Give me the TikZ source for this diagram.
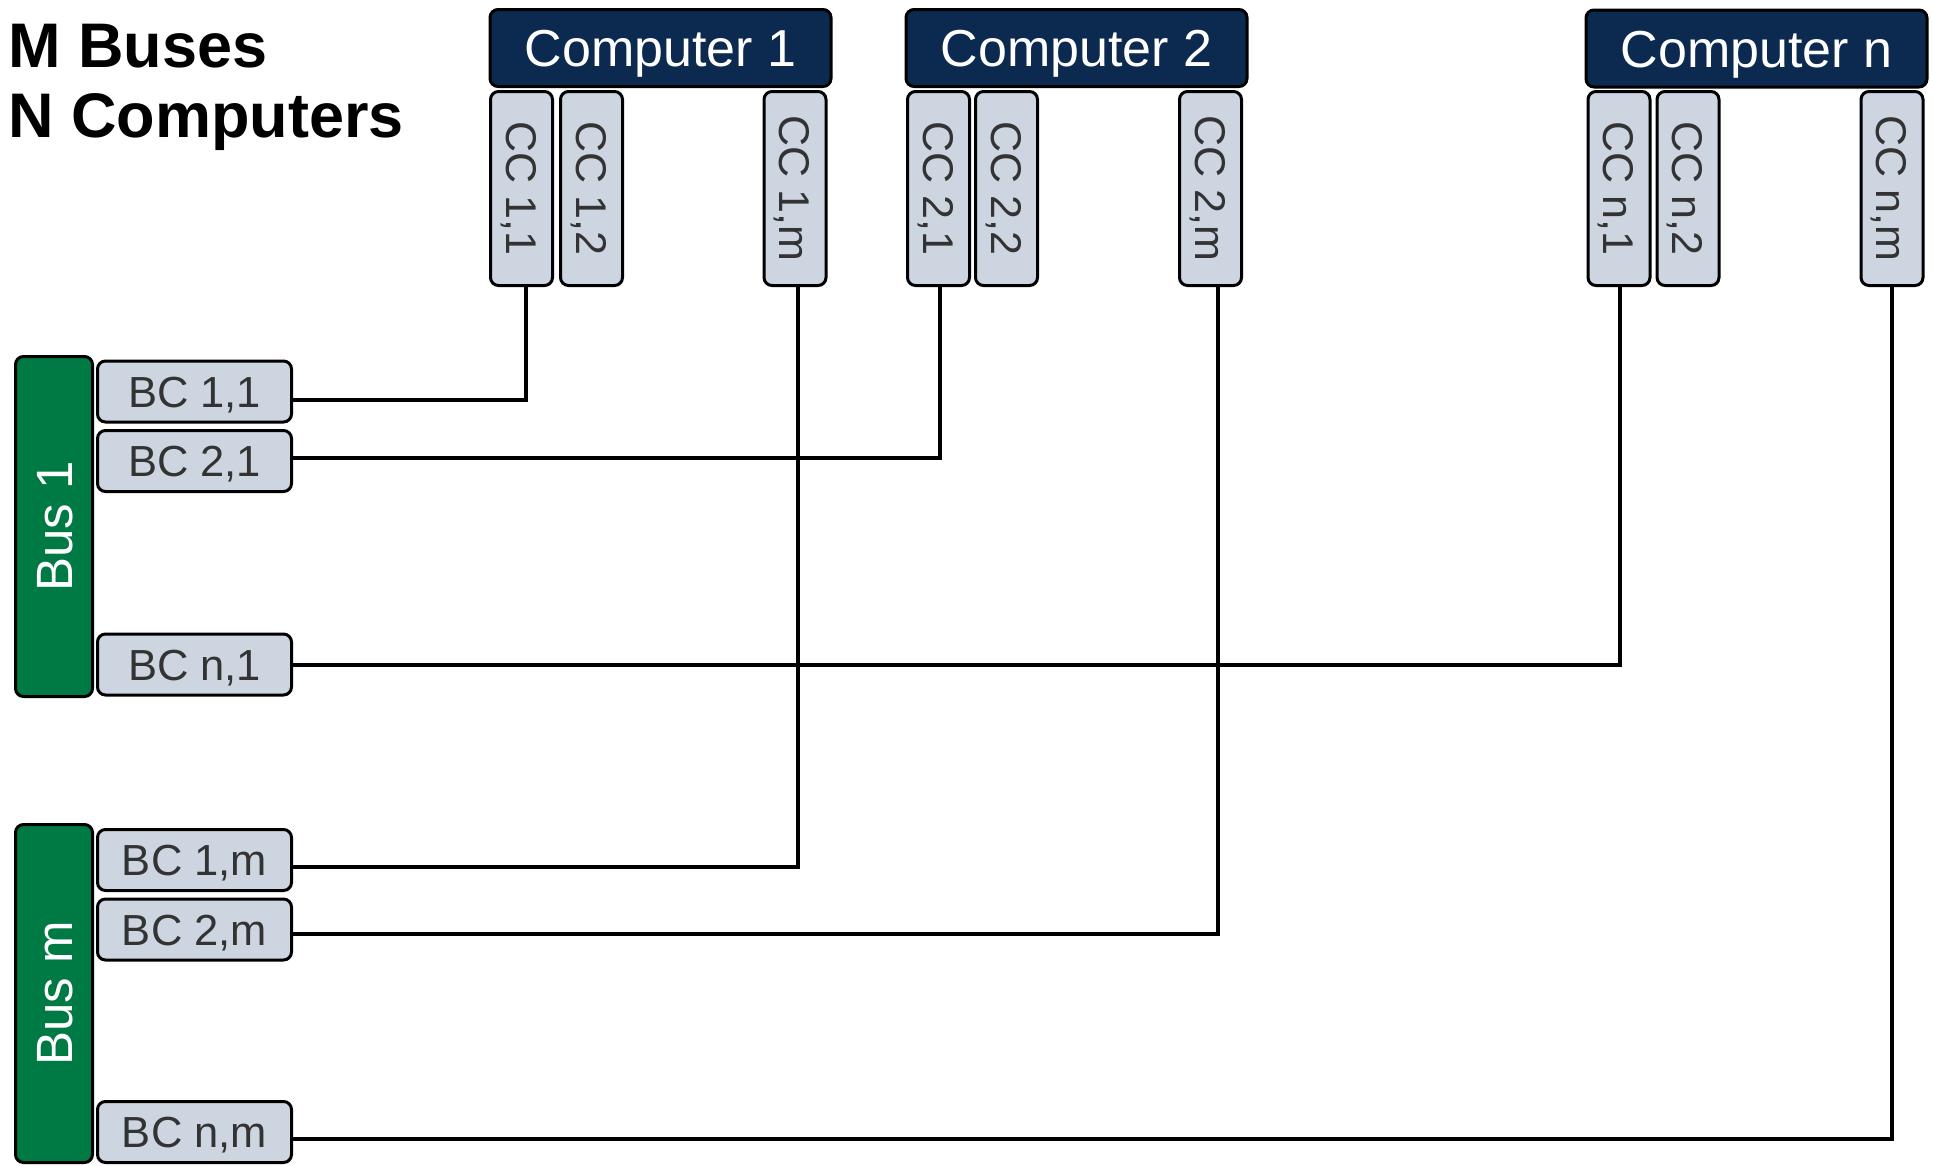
\documentclass[tikz,border=0pt]{standalone}
\usepackage{fontspec}
\setmainfont{Liberation Sans}
\usetikzlibrary{calc}
\definecolor{compblue}{HTML}{0C2A50}
\definecolor{busgreen}{HTML}{007A45}
\definecolor{ctrlfill}{HTML}{CDD5E1}
\definecolor{ctrltext}{HTML}{333333}
\tikzset{
  box/.style={draw=black, line width=3pt, rounded corners=8pt, inner sep=0pt},
  compbox/.style={box, fill=compblue, text=white, minimum width=341pt, minimum height=77pt,
    font=\fontsize{52}{52}\selectfont, text height=37.2pt, text depth=0pt},
  ccbox/.style={box, fill=ctrlfill, text=ctrltext, rotate=-90, minimum width=194pt, minimum height=62pt,
    font=\fontsize{43}{43}\selectfont, text height=30.8pt, text depth=0pt},
  bcbox/.style={box, fill=ctrlfill, text=ctrltext, minimum width=194pt, minimum height=61pt,
    font=\fontsize{43.5}{43.5}\selectfont, text height=31.1pt, text depth=0pt},
  busbox/.style={box, fill=busgreen, text=white, rotate=90, minimum height=77pt,
    font=\fontsize{51}{51}\selectfont, text height=36.5pt, text depth=0pt},
  titletext/.style={inner sep=0pt, anchor=base west, font=\bfseries\fontsize{63}{63}\selectfont},
  conn/.style={draw=black, line width=3.3pt}
}
\begin{document}
\begin{tikzpicture}[x=1pt,y=-1pt]
\useasboundingbox (0,0) rectangle (1933,1165);
\clip (0,0) rectangle (1933,1165);
\fill[white] (0,0) rectangle (1933,1165);
% titles
\node[titletext] (t1) at (8,67) {M Buses};
\node[titletext] (t2) at (8,137) {N Computers};
% computers
\node[compbox] (comp1) at (660.5,48) {Computer 1};
\node[compbox] (comp2) at (1076.5,48) {Computer 2};
\node[compbox] (compn) at (1756.5,48.5) {Computer n};
% computer connectors
\node[ccbox] (cc11) at (521.5,188.5) {CC 1,1};
\node[ccbox] (cc12) at (591.5,188.5) {CC 1,2};
\node[ccbox] (cc1m) at (795,188.5) {CC 1,m};
\node[ccbox] (cc21) at (938.5,188.5) {CC 2,1};
\node[ccbox] (cc22) at (1006.5,188.5) {CC 2,2};
\node[ccbox] (cc2m) at (1210.5,188.5) {CC 2,m};
\node[ccbox] (ccn1) at (1619,188.5) {CC n,1};
\node[ccbox] (ccn2) at (1688,188.5) {CC n,2};
\node[ccbox] (ccnm) at (1892,188.5) {CC n,m};
% buses
\node[busbox, minimum width=340pt] (bus1) at (54,526.5) {Bus 1};
\node[busbox, minimum width=338pt] (busm) at (54,993.5) {Bus m};
% bus connectors
\node[bcbox] (bc11) at (194.5,391.5) {BC 1,1};
\node[bcbox] (bc21) at (194.5,461) {BC 2,1};
\node[bcbox] (bcn1) at (194.5,664.5) {BC n,1};
\node[bcbox] (bc1m) at (194.5,860) {BC 1,m};
\node[bcbox] (bc2m) at (194.5,929.5) {BC 2,m};
\node[bcbox] (bcnm) at (194.5,1132) {BC n,m};
% wiring (the rotated CC nodes have their east anchor at the bottom)
\draw[conn] ($(bc11.east)+(0,8.5)$) -| ($(cc11.east)+(4.5,0)$);
\draw[conn] ($(bc21.east)+(0,-3)$) -| ($(cc21.east)+(1.5,0)$);
\draw[conn] ($(bcn1.east)+(0,0.5)$) -| ($(ccn1.east)+(1,0)$);
\draw[conn] ($(bc1m.east)+(0,7)$) -| ($(cc1m.east)+(3,0)$);
\draw[conn] ($(bc2m.east)+(0,4.5)$) -| ($(cc2m.east)+(7.5,0)$);
\draw[conn] ($(bcnm.east)+(0,7)$) -| ($(ccnm.east)+(0,0)$);
\end{tikzpicture}
\end{document}
